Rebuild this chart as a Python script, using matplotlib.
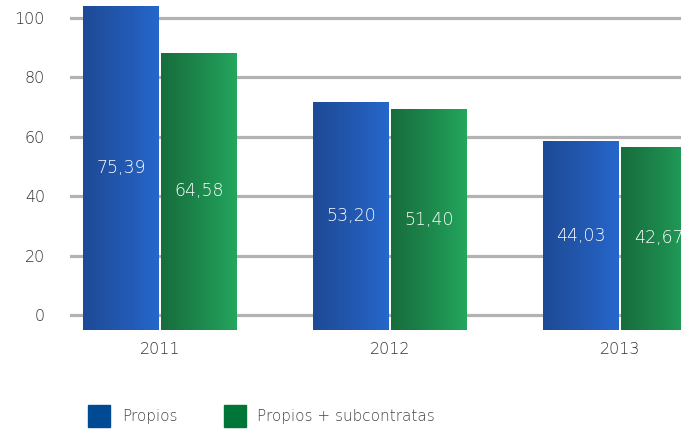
import numpy as np
import matplotlib
matplotlib.use("Agg")
import matplotlib.pyplot as plt
from matplotlib.colors import LinearSegmentedColormap

# Datos del grafico
anios = ["2011", "2012", "2013"]
propios = [75.39, 53.20, 44.03]
subcontratas = [64.58, 51.40, 42.67]
etiquetas_eje = [0, 20, 40, 60, 80, 100]
series = ["Propios", "Propios + subcontratas"]

plt.rcParams['font.family'] = ['DejaVu Sans']
plt.rcParams['font.weight'] = 'light'

fig = plt.figure(figsize=(6.81, 4.30), dpi=100)
W, H = 681, 430
# Eje de las barras (escala de la perspectiva) y eje de la rejilla
ax = fig.add_axes([70 / W, (H - 330) / H, (681 - 70) / W, 330 / H])
axg = ax.twinx()
ax.set_zorder(2)
axg.set_zorder(1)
ax.patch.set_visible(False)

x = np.arange(len(anios))
ancho = 0.33
desp = 0.17

# Rejilla gris con las etiquetas 0..100
for v in etiquetas_eje:
    axg.axhline(v, color="#b2b2b2", lw=2.3, zorder=0)
axg.set_ylim(-5.05, 106.06)

# Barras con degradado
cmap_azul = LinearSegmentedColormap.from_list("az", ["#1d4a96", "#2153a6", "#235cb8", "#2667cc"])
cmap_verde = LinearSegmentedColormap.from_list("ve", ["#176e3d", "#1b7e47", "#1f9151", "#23a65d"])
grad = np.linspace(0, 1, 100).reshape(1, -1)

barras1 = ax.bar(x - desp, propios, ancho, color="#2153a6", zorder=3)
barras2 = ax.bar(x + desp, subcontratas, ancho, color="#1b8a4a", zorder=3)
for barras, cmap in [(barras1, cmap_azul), (barras2, cmap_verde)]:
    for b in barras:
        x0, y0 = b.get_x(), b.get_y()
        img = ax.imshow(grad, cmap=cmap, aspect="auto", zorder=4,
                        extent=[x0, x0 + b.get_width(), y0, y0 + b.get_height()])
        img.set_clip_path(b)
ax.set_xlim(-0.391, 2.265)
ax.set_ylim(0, 76.9)

# Valores dentro de las barras
for i in range(len(anios)):
    ax.text(x[i] - desp, propios[i] / 2, f"{propios[i]:.2f}".replace(".", ","),
            color="white", ha="center", va="center", fontsize=12.5, zorder=5)
    ax.text(x[i] + desp, subcontratas[i] / 2, f"{subcontratas[i]:.2f}".replace(".", ","),
            color="white", ha="center", va="center", fontsize=12.5, zorder=5)

# Ejes
for a in (ax, axg):
    for s in a.spines.values():
        s.set_visible(False)
ax.set_yticks([])
axg.set_yticks(etiquetas_eje)
axg.yaxis.set_ticks_position("left")
axg.yaxis.set_label_position("left")
axg.tick_params(axis="y", length=0, pad=18, labelsize=11.5, labelcolor="#333333")
ax.set_xticks(x)
ax.set_xticklabels(anios)
ax.tick_params(axis="x", length=0, pad=9, labelsize=11.5, labelcolor="#333333")

# Leyenda
fig.patches.append(plt.Rectangle((88 / W, (H - 427) / H), 22 / W, 22 / H,
                                 color="#004a94", transform=fig.transFigure))
fig.text(122 / W, (H - 416) / H, series[0], fontsize=11, color="#444444", va="center")
fig.patches.append(plt.Rectangle((224 / W, (H - 427) / H), 22 / W, 22 / H,
                                 color="#007538", transform=fig.transFigure))
fig.text(257 / W, (H - 416) / H, series[1], fontsize=11, color="#444444", va="center")

fig.savefig("out.png", dpi=100)
